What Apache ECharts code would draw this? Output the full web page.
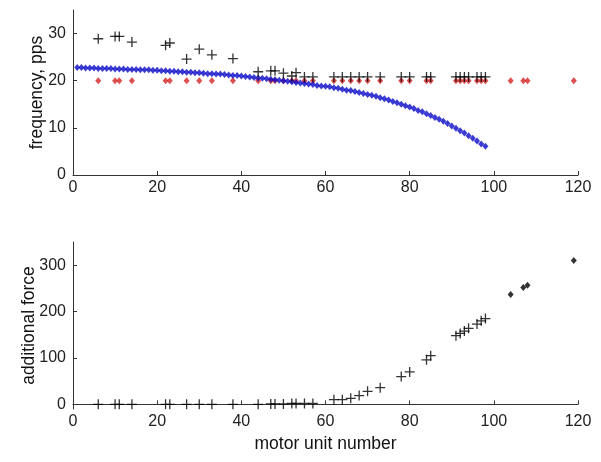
<!DOCTYPE html>
<html>
<head>
<meta charset="utf-8">
<script src="https://cdn.jsdelivr.net/npm/echarts@6/dist/echarts.min.js"></script>
<style>html,body{margin:0;padding:0;background:#fff}#c{width:601px;height:462px}</style>
</head>
<body>
<div id="c"></div>
<script>
// motor unit numbers (recruited units)
var units = [6,10,11,14,22,23,27,30,33,38,44,47,48,50,52,53,55,57,62,64,66,68,70,73,78,80,84,85,91,92,93,94,96,97,98,104,107,108,119];
// peak firing frequency (+) for units up to 98
var peakUnits = [6,10,11,14,22,23,27,30,33,38,44,47,48,50,52,53,55,57,62,64,66,68,70,73,78,80,84,85,91,92,93,94,96,97,98];
var peakRate = [28.9,29.4,29.4,28.2,27.5,28.0,24.6,26.7,25.5,24.7,21.9,22.1,22.1,21.6,21.0,21.7,20.8,20.8,20.8,20.8,20.8,20.8,20.8,20.8,20.8,20.8,20.8,20.8,20.8,20.8,20.8,20.8,20.8,20.8,20.8];
// red dots: frequency 20 pps
var baseRate = [20,20,20,20,20,20,20,20,20,20,20,20,20,20,20,20,20,20,20,20,20,20,20,20,20,20,20,20,20,20,20,20,20,20,20,20,20,20,20];
// blue curve: units 1..98
var curveUnits = [1,2,3,4,5,6,7,8,9,10,11,12,13,14,15,16,17,18,19,20,21,22,23,24,25,26,27,28,29,30,31,32,33,34,35,36,37,38,39,40,41,42,43,44,45,46,47,48,49,50,51,52,53,54,55,56,57,58,59,60,61,62,63,64,65,66,67,68,69,70,71,72,73,74,75,76,77,78,79,80,81,82,83,84,85,86,87,88,89,90,91,92,93,94,95,96,97,98];
var curveRate = [22.8,22.8,22.7,22.7,22.7,22.6,22.6,22.6,22.6,22.5,22.5,22.5,22.4,22.4,22.4,22.3,22.3,22.3,22.2,22.2,22.1,22.1,22.0,22.0,21.9,21.9,21.8,21.8,21.7,21.7,21.6,21.5,21.5,21.4,21.4,21.3,21.2,21.1,21.1,21.0,20.9,20.8,20.7,20.6,20.5,20.4,20.3,20.2,20.1,20.0,19.9,19.8,19.6,19.5,19.4,19.3,19.2,19.0,18.9,18.8,18.7,18.5,18.4,18.2,18.0,17.9,17.7,17.5,17.3,17.1,16.9,16.7,16.4,16.2,15.9,15.6,15.3,15.0,14.7,14.4,14.1,13.7,13.4,13.0,12.6,12.2,11.8,11.4,10.9,10.4,9.9,9.4,8.9,8.3,7.8,7.2,6.6,6.1];
// additional force (+) for units up to 98
var forceUnits = [6,10,11,14,22,23,27,30,33,38,44,47,48,50,52,53,55,57,62,64,66,68,70,73,78,80,84,85,91,92,93,94,96,97,98];
var forceVals = [0,0,0,0,0,0,0,0,0,0,0,1,1,1,2,2,2,2,10,10,13,19,28,36,60,70,96,105,148,153,158,164,173,180,185];
// additional force (diamonds) for the last units
var forceUnits2 = [104,107,108,119];
var forceVals2 = [237,252,257,310];
var xTicks = [0,20,40,60,80,100,120];
var yTicksTop = [0,10,20,30];
var yTicksBottom = [0,100,200,300];

function pairs(xs, ys){ return xs.map(function(x,i){ return [x, ys[i]]; }); }

var plus = 'path://M4.35,0h1.3v4.35h4.35v1.3h-4.35v4.35h-1.3v-4.35h-4.35v-1.3h4.35z';
var FF = 'Liberation Sans, Arial, sans-serif';
var axisLine = {show:true, lineStyle:{color:'#333', width:1}};
var axisTick = {show:true, inside:true, length:4, lineStyle:{color:'#333'}};
function xAxis(idx, name){
  return {type:'value', gridIndex:idx, min:0, max:120,
    axisLine:axisLine, axisTick:Object.assign({customValues:xTicks}, axisTick),
    axisLabel:{customValues:xTicks, color:'#222', fontFamily:FF, fontSize:16, margin:5},
    splitLine:{show:false}, name:name, nameLocation:'middle', nameGap:26, nameMoveOverlap:false,
    nameTextStyle:{color:'#111', fontFamily:FF, fontSize:17.5}};
}
function yAxis(idx, min, max, ticks, name, gap){
  return {type:'value', gridIndex:idx, min:min, max:max,
    axisLine:axisLine, axisTick:Object.assign({customValues:ticks}, axisTick),
    axisLabel:{customValues:ticks, color:'#222', fontFamily:FF, fontSize:16, margin:7},
    splitLine:{show:false}, name:name, nameLocation:'middle', nameGap:gap, nameMoveOverlap:false,
    nameTextStyle:{color:'#111', fontFamily:FF, fontSize:17.5}};
}

var chart = echarts.init(document.getElementById('c'));
chart.setOption({
  animation:false,
  backgroundColor:'#fff',
  grid:[{left:73, right:23, top:10, height:165},{left:73, right:23, top:242, height:167}],
  xAxis:[xAxis(0,''), xAxis(1,'motor unit number')],
  yAxis:[yAxis(0,0,35,yTicksTop,'frequency, pps',27), yAxis(1,-10,350,yTicksBottom,'additional force',35)],
  series:[
    {type:'scatter', xAxisIndex:0, yAxisIndex:0, data:pairs(units, baseRate), symbol:'diamond', symbolSize:[6,7], itemStyle:{color:'#d42424'}, z:2},
    {type:'scatter', xAxisIndex:0, yAxisIndex:0, data:pairs(curveUnits, curveRate), symbol:'diamond', symbolSize:[6,7], itemStyle:{color:'#0a0ac8'}, z:3},
    {type:'scatter', xAxisIndex:0, yAxisIndex:0, data:pairs(peakUnits, peakRate), symbol:plus, symbolSize:10, itemStyle:{color:'#000'}, z:4},
    {type:'scatter', xAxisIndex:1, yAxisIndex:1, data:pairs(forceUnits, forceVals), symbol:plus, symbolSize:10, itemStyle:{color:'#000'}, z:4},
    {type:'scatter', xAxisIndex:1, yAxisIndex:1, data:pairs(forceUnits2, forceVals2), symbol:'diamond', symbolSize:[6,7], itemStyle:{color:'#000'}, z:4}
  ]
});
</script>
</body>
</html>
